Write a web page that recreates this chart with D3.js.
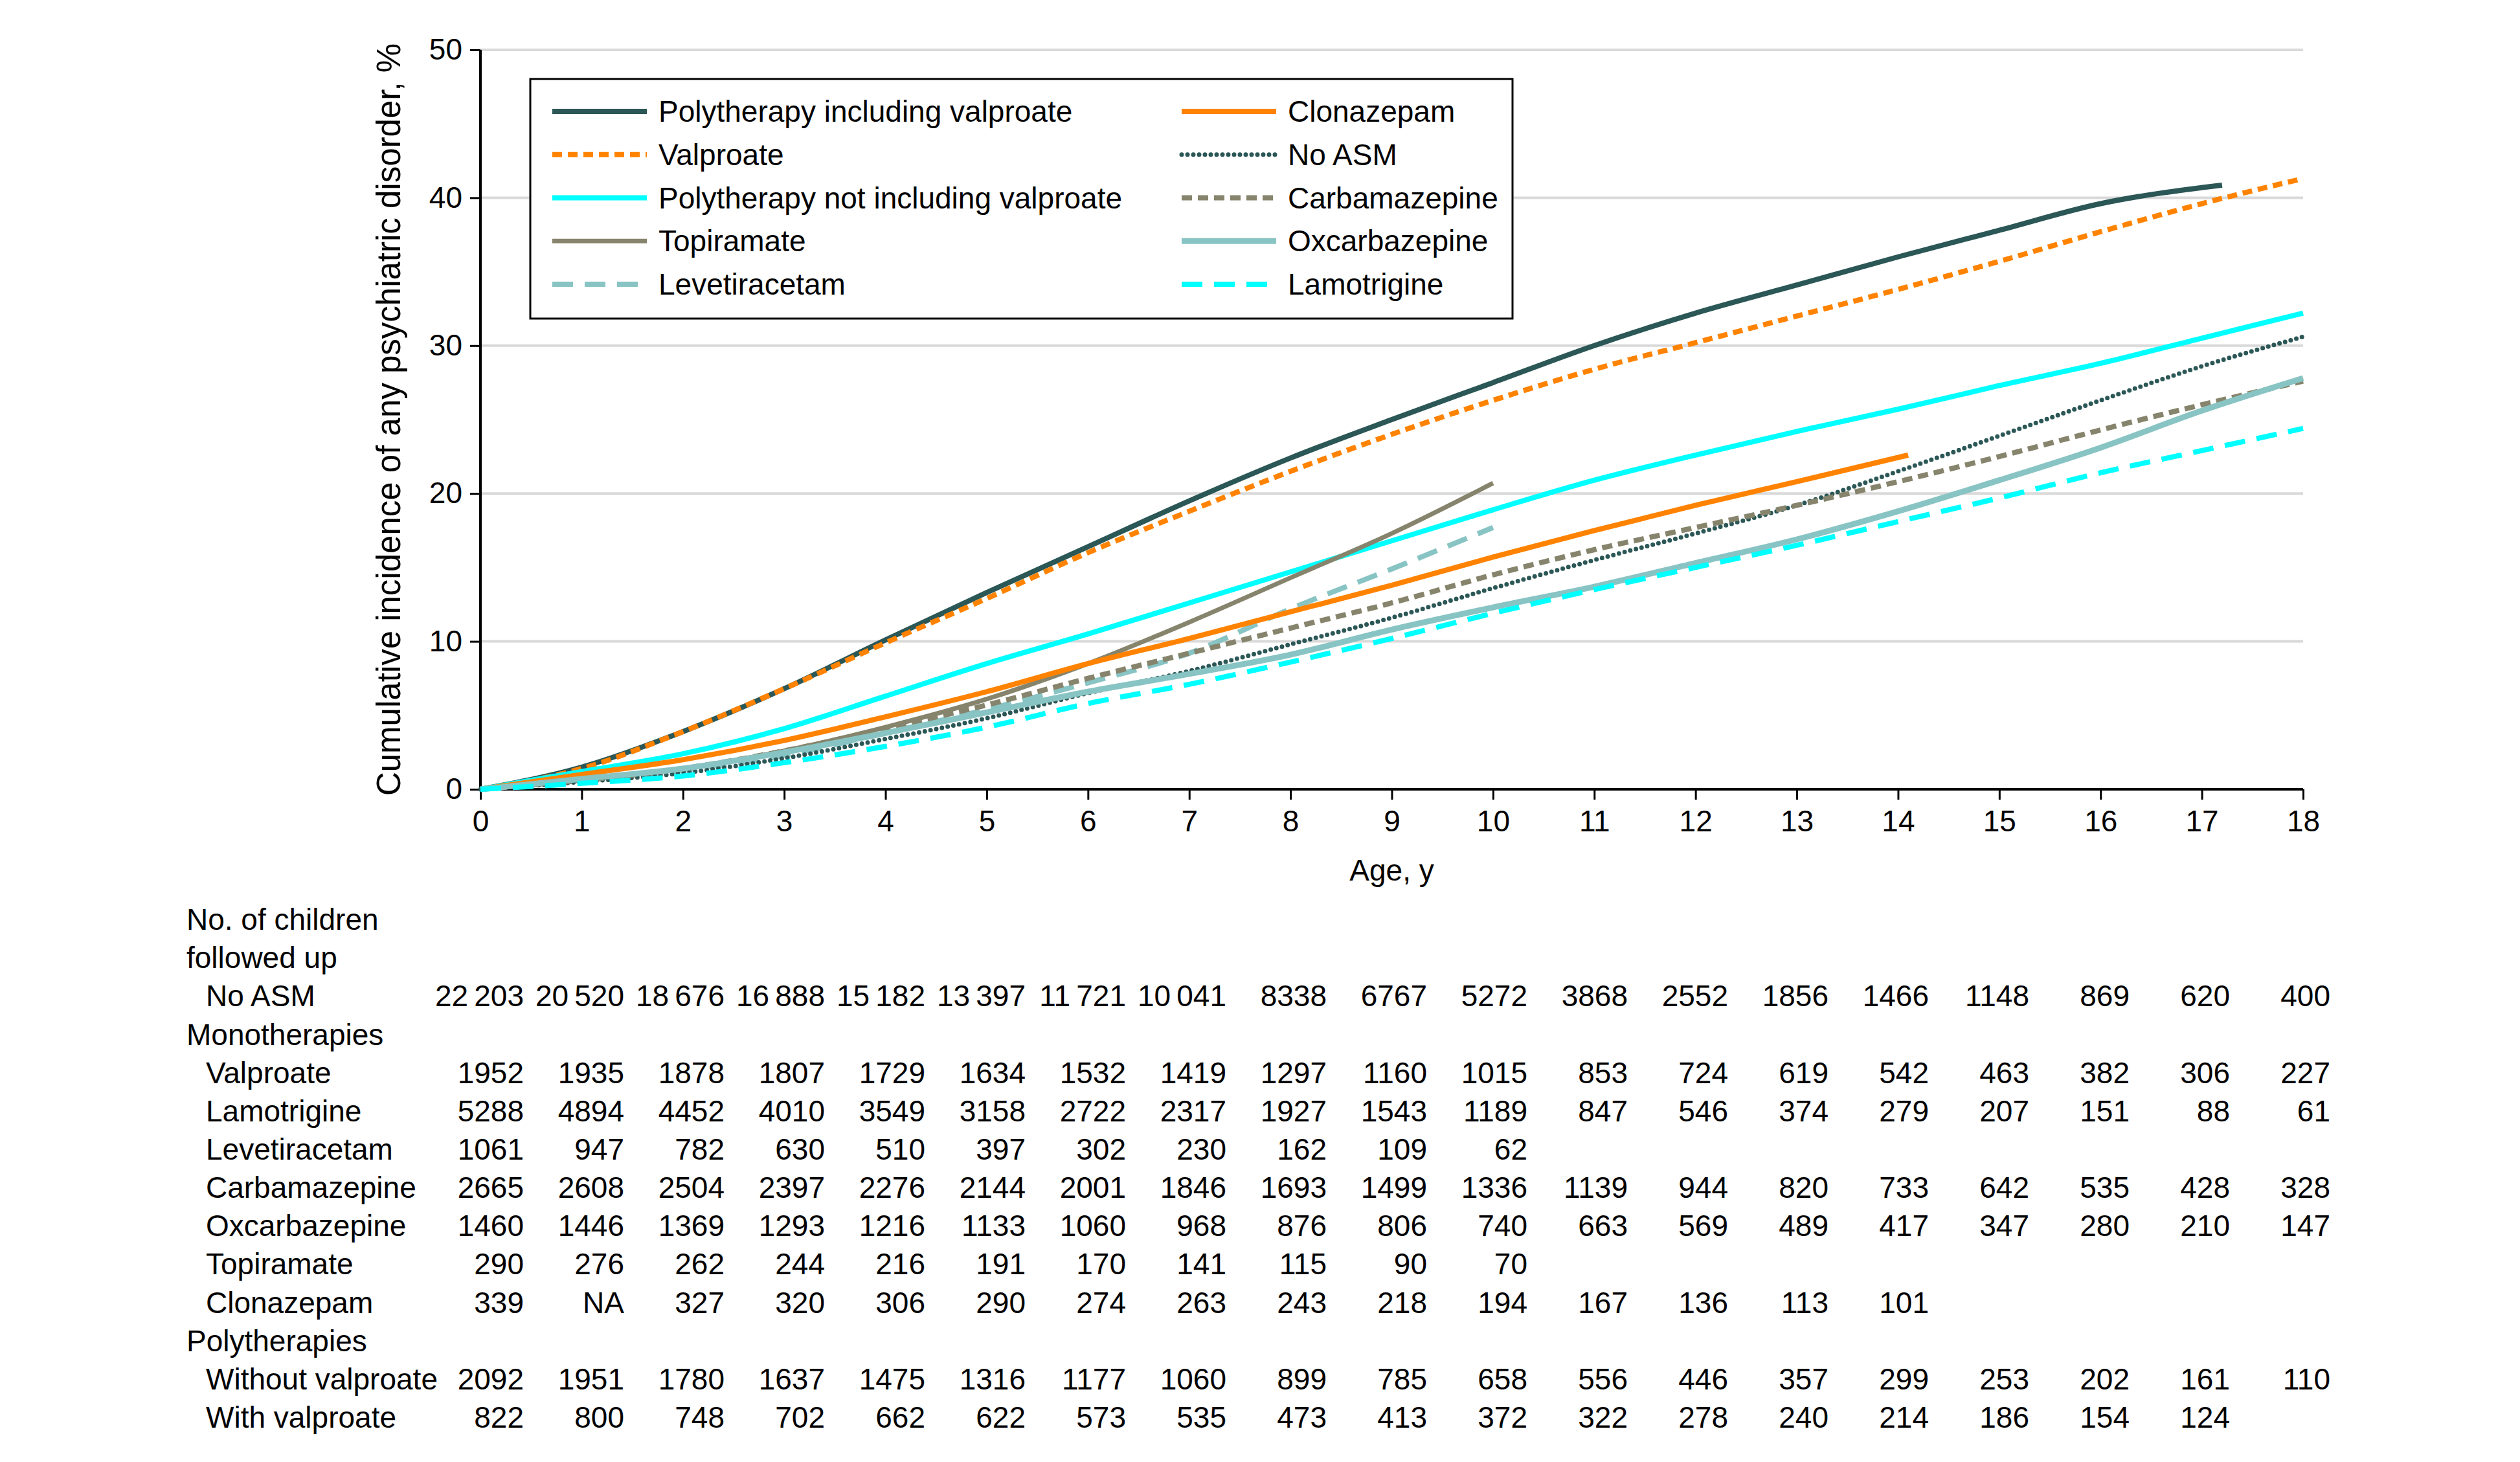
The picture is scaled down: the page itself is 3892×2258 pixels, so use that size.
<!doctype html>
<html>
  <head>
    <meta charset="utf-8" />
    <title>Cumulative incidence of psychiatric disorder by ASM</title>
    <style>
      body {
        margin: 0;
        background: #fff;
      }
      svg {
        display: block;
      }
      text {
        font-family: "Liberation Sans", Arial, sans-serif;
        fill: #000;
      }
    </style>
  </head>
  <body>
    <svg id="chart"></svg>
    <script src="https://d3js.org/d3.v7.min.js"></script>
    <script>
      // ages on the x axis (years)
      const ages = [0, 1, 2, 3, 4, 5, 6, 7, 8, 9, 10, 11, 12, 13, 14, 15, 16, 17, 18];
      const yTicks = [0, 10, 20, 30, 40, 50];

      // cumulative incidence curves, %
      const polyWithValproateAges = [0, 1, 2, 3, 4, 5, 6, 7, 8, 9, 10, 11, 12, 13, 14, 15, 16, 17.2];
      const polyWithValproate = [0, 1.5, 3.9, 6.8, 10.1, 13.3, 16.4, 19.5, 22.4, 25.0, 27.5, 30.0, 32.2, 34.1, 36.0, 37.8, 39.6, 40.85];
      const valproate = [0, 1.4, 3.9, 6.8, 9.9, 12.9, 16.0, 18.8, 21.5, 24.0, 26.3, 28.4, 30.2, 32.0, 33.8, 35.7, 37.7, 39.6, 41.3];
      const polyWithoutValproate = [0, 1.2, 2.4, 4.1, 6.3, 8.5, 10.5, 12.6, 14.7, 16.8, 18.9, 20.9, 22.6, 24.2, 25.7, 27.3, 28.8, 30.5, 32.2];
      const topiramateAges = [0, 1, 2, 3, 4, 5, 6, 7, 8, 9, 10];
      const topiramate = [0, 0.6, 1.4, 2.6, 4.2, 6.1, 8.5, 11.3, 14.3, 17.3, 20.7];
      const levetiracetamAges = [0, 1, 2, 3, 4, 5, 6, 7, 8, 9, 10];
      const levetiracetam = [0, 0.6, 1.3, 2.3, 3.8, 5.4, 7.2, 9.2, 12.2, 14.9, 17.7];
      const clonazepamAges = [0, 1, 2, 3, 4, 5, 6, 7, 8, 9, 10, 11, 12, 13, 14.1];
      const clonazepam = [0, 1.0, 2.0, 3.3, 4.9, 6.6, 8.5, 10.2, 12.0, 13.8, 15.7, 17.5, 19.2, 20.8, 22.6];
      const noAsm = [0, 0.5, 1.1, 2.1, 3.4, 4.8, 6.5, 8.0, 9.8, 11.6, 13.6, 15.5, 17.3, 19.2, 21.5, 23.9, 26.3, 28.6, 30.6];
      const carbamazepine = [0, 0.6, 1.4, 2.6, 4.1, 5.7, 7.5, 9.2, 10.9, 12.6, 14.5, 16.2, 17.7, 19.2, 20.8, 22.5, 24.3, 26.0, 27.6];
      const oxcarbazepine = [0, 0.7, 1.4, 2.5, 3.8, 5.2, 6.6, 7.8, 9.1, 10.8, 12.3, 13.7, 15.3, 16.9, 18.8, 20.9, 23.1, 25.6, 27.8];
      const lamotrigine = [0, 0.4, 0.9, 1.8, 2.9, 4.2, 5.8, 7.1, 8.6, 10.2, 11.9, 13.5, 15.0, 16.5, 18.1, 19.7, 21.4, 22.9, 24.4];

      // number at risk table
      const tableAges = [0, 1, 2, 3, 4, 5, 6, 7, 8, 9, 10, 11, 12, 13, 14, 15, 16, 17, 18];
      const noAsmN = [22203, 20520, 18676, 16888, 15182, 13397, 11721, 10041, 8338, 6767, 5272, 3868, 2552, 1856, 1466, 1148, 869, 620, 400];
      const valproateN = [1952, 1935, 1878, 1807, 1729, 1634, 1532, 1419, 1297, 1160, 1015, 853, 724, 619, 542, 463, 382, 306, 227];
      const lamotrigineN = [5288, 4894, 4452, 4010, 3549, 3158, 2722, 2317, 1927, 1543, 1189, 847, 546, 374, 279, 207, 151, 88, 61];
      const levetiracetamN = [1061, 947, 782, 630, 510, 397, 302, 230, 162, 109, 62];
      const carbamazepineN = [2665, 2608, 2504, 2397, 2276, 2144, 2001, 1846, 1693, 1499, 1336, 1139, 944, 820, 733, 642, 535, 428, 328];
      const oxcarbazepineN = [1460, 1446, 1369, 1293, 1216, 1133, 1060, 968, 876, 806, 740, 663, 569, 489, 417, 347, 280, 210, 147];
      const topiramateN = [290, 276, 262, 244, 216, 191, 170, 141, 115, 90, 70];
      const clonazepamN = [339, "NA", 327, 320, 306, 290, 274, 263, 243, 218, 194, 167, 136, 113, 101];
      const withoutValproateN = [2092, 1951, 1780, 1637, 1475, 1316, 1177, 1060, 899, 785, 658, 556, 446, 357, 299, 253, 202, 161, 110];
      const withValproateN = [822, 800, 748, 702, 662, 622, 573, 535, 473, 413, 372, 322, 278, 240, 214, 186, 154, 124];

      const W = 3892,
        H = 2258;
      const slate = "#2b5756",
        orange = "#ff8300",
        cyan = "#00ffff",
        olive = "#86846c",
        teal = "#88c4c3";

      // drawing order + styles
      const series = [
        { name: "Polytherapy including valproate", x: polyWithValproateAges, y: polyWithValproate, color: slate, dash: null, w: 8 },
        { name: "Valproate", x: ages, y: valproate, color: orange, dash: "15 9", w: 8 },
        { name: "Polytherapy not including valproate", x: ages, y: polyWithoutValproate, color: cyan, dash: null, w: 8 },
        { name: "Topiramate", x: topiramateAges, y: topiramate, color: olive, dash: null, w: 7 },
        { name: "Levetiracetam", x: levetiracetamAges, y: levetiracetam, color: teal, dash: "32 18", w: 8 },
        { name: "Clonazepam", x: clonazepamAges, y: clonazepam, color: orange, dash: null, w: 8 },
        { name: "No ASM", x: ages, y: noAsm, color: slate, dash: "0 9", w: 7, cap: "round" },
        { name: "Carbamazepine", x: ages, y: carbamazepine, color: olive, dash: "16 9", w: 8 },
        { name: "Oxcarbazepine", x: ages, y: oxcarbazepine, color: teal, dash: null, w: 9 },
        { name: "Lamotrigine", x: ages, y: lamotrigine, color: cyan, dash: "32 18", w: 8 },
      ];
      const legendOrder = [
        ["Polytherapy including valproate", "Valproate", "Polytherapy not including valproate", "Topiramate", "Levetiracetam"],
        ["Clonazepam", "No ASM", "Carbamazepine", "Oxcarbazepine", "Lamotrigine"],
      ];

      const svg = d3.select("#chart").attr("width", W).attr("height", H);
      svg.append("rect").attr("width", W).attr("height", H).attr("fill", "#fff");

      const x = d3.scaleLinear().domain([0, 18]).range([742, 3557]);
      const y = d3.scaleLinear().domain([0, 50]).range([1219, 77]);

      // grid
      svg
        .append("g")
        .selectAll("line")
        .data(yTicks.filter((d) => d > 0))
        .join("line")
        .attr("x1", x(0))
        .attr("x2", x(18))
        .attr("y1", (d) => y(d))
        .attr("y2", (d) => y(d))
        .attr("stroke", "#d9d9d9")
        .attr("stroke-width", 4);

      // axes
      const fs = 46;
      const yAxis = svg
        .append("g")
        .attr("transform", `translate(${x(0)},0)`)
        .call(d3.axisLeft(y).tickValues(yTicks).tickSize(16).tickPadding(12));
      const xAxis = svg
        .append("g")
        .attr("transform", `translate(0,${y(0)})`)
        .call(d3.axisBottom(x).tickValues(ages).tickSize(16).tickPadding(16));
      [yAxis, xAxis].forEach((a) => {
        a.select(".domain").attr("stroke", "#000").attr("stroke-width", 4);
        a.selectAll(".tick line").attr("stroke", "#000").attr("stroke-width", 3);
        a.selectAll(".tick text").attr("font-size", fs).attr("font-family", null);
      });
      xAxis.select(".domain").attr("d", `M${x(0)},0H${x(18)}`);
      yAxis.select(".domain").attr("d", `M0,${y(0)}V${y(50)}`);

      svg
        .append("text")
        .attr("x", x(9))
        .attr("y", 1360)
        .attr("text-anchor", "middle")
        .attr("font-size", fs)
        .text("Age, y");

      svg
        .append("text")
        .attr("transform", `translate(618,${(y(0) + y(50)) / 2}) rotate(-90)`)
        .attr("text-anchor", "middle")
        .attr("font-size", 51)
        .text("Cumulative incidence of any psychiatric disorder, %");

      // curves
      const line = d3
        .line()
        .x((d) => x(d[0]))
        .y((d) => y(d[1]))
        .curve(d3.curveMonotoneX);
      svg
        .append("g")
        .selectAll("path")
        .data(series)
        .join("path")
        .attr("d", (s) => line(s.x.map((a, i) => [a, s.y[i]])))
        .attr("fill", "none")
        .attr("stroke", (s) => s.color)
        .attr("stroke-width", (s) => s.w)
        .attr("stroke-dasharray", (s) => s.dash)
        .attr("stroke-linecap", (s) => s.cap || "butt");

      // legend
      const lg = svg.append("g");
      lg.append("rect")
        .attr("x", 819)
        .attr("y", 122)
        .attr("width", 2336 - 819)
        .attr("height", 492 - 122)
        .attr("fill", "#fff")
        .attr("stroke", "#000")
        .attr("stroke-width", 3);
      const rowY = d3.scalePoint().domain(d3.range(5)).range([172, 439]);
      const colX = [853, 1825];
      legendOrder.forEach((col, ci) => {
        col.forEach((name, ri) => {
          const s = series.find((d) => d.name === name);
          const yy = rowY(ri);
          lg.append("line")
            .attr("x1", colX[ci])
            .attr("x2", colX[ci] + 146)
            .attr("y1", yy)
            .attr("y2", yy)
            .attr("stroke", s.color)
            .attr("stroke-width", s.w)
            .attr("stroke-dasharray", s.dash)
            .attr("stroke-linecap", s.cap || "butt");
          lg.append("text")
            .attr("x", colX[ci] + 164)
            .attr("y", yy)
            .attr("dy", "0.35em")
            .attr("font-size", fs)
            .text(name);
        });
      });

      // number at risk table
      const tableRows = [
        { label: "No. of children", indent: 0 },
        { label: "followed up", indent: 0 },
        { label: "No ASM", indent: 1, n: noAsmN },
        { label: "Monotherapies", indent: 0 },
        { label: "Valproate", indent: 1, n: valproateN },
        { label: "Lamotrigine", indent: 1, n: lamotrigineN },
        { label: "Levetiracetam", indent: 1, n: levetiracetamN },
        { label: "Carbamazepine", indent: 1, n: carbamazepineN },
        { label: "Oxcarbazepine", indent: 1, n: oxcarbazepineN },
        { label: "Topiramate", indent: 1, n: topiramateN },
        { label: "Clonazepam", indent: 1, n: clonazepamN },
        { label: "Polytherapies", indent: 0 },
        { label: "Without valproate", indent: 1, n: withoutValproateN },
        { label: "With valproate", indent: 1, n: withValproateN },
      ];
      const ty = d3.scalePoint().domain(d3.range(tableRows.length)).range([1420, 2189]);
      const tx = d3.scaleLinear().domain([0, 18]).range([809, 3599]);
      const fmt = (v) => (typeof v === "number" && v >= 10000 ? d3.format(",")(v).replace(",", "\u2009") : String(v));
      const tg = svg.append("g").attr("font-size", fs);
      tableRows.forEach((r, i) => {
        tg.append("text")
          .attr("x", 288 + r.indent * 30)
          .attr("y", ty(i))
          .attr("dy", "0.35em")
          .attr("font-size", fs)
          .text(r.label);
        if (r.n) {
          tg.selectAll(null)
            .data(r.n)
            .join("text")
            .attr("x", (d, j) => tx(tableAges[j]))
            .attr("y", ty(i))
            .attr("dy", "0.35em")
            .attr("text-anchor", "end")
            .attr("font-size", fs)
            .text((d) => fmt(d));
        }
      });
    </script>
  </body>
</html>
